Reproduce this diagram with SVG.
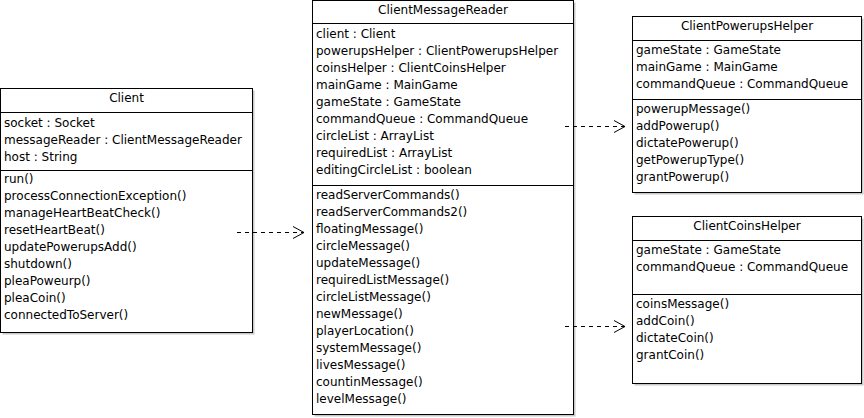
<svg xmlns="http://www.w3.org/2000/svg" width="864" height="418" viewBox="0 0 864 418">
<style>
  .box{fill:#fff;stroke:#000;stroke-width:1}
  .shadow{fill:#c8c8c8}
  .div{stroke:#000;stroke-width:1}
  text{font-family:"DejaVu Sans",Verdana,sans-serif;font-size:12px;fill:#000}
  .title{text-anchor:middle}
  .dep{fill:none;stroke:#000;stroke-width:1;stroke-dasharray:4 4}
  .head{fill:none;stroke:#000;stroke-width:1}
</style>
<rect width="864" height="418" fill="#fff"/>
<g id="Client">
  <rect class="shadow" x="2.5" y="90.5" width="252" height="244"/>
  <rect class="box" x="0.5" y="88.5" width="252" height="244"/>
  <line class="div" x1="0.5" y1="112.5" x2="252.5" y2="112.5"/>
  <line class="div" x1="0.5" y1="170.5" x2="252.5" y2="170.5"/>
  <text class="title" x="126.5" y="102">Client</text>
  <text x="4" y="127">socket : Socket</text>
  <text x="4" y="144">messageReader : ClientMessageReader</text>
  <text x="4" y="161">host : String</text>
  <text x="4" y="183">run()</text>
  <text x="4" y="200">processConnectionException()</text>
  <text x="4" y="217">manageHeartBeatCheck()</text>
  <text x="4" y="234">resetHeartBeat()</text>
  <text x="4" y="251">updatePowerupsAdd()</text>
  <text x="4" y="268">shutdown()</text>
  <text x="4" y="285">pleaPoweurp()</text>
  <text x="4" y="302">pleaCoin()</text>
  <text x="4" y="319">connectedToServer()</text>
</g>
<g id="ClientMessageReader">
  <rect class="shadow" x="314.5" y="2.5" width="261" height="414"/>
  <rect class="box" x="312.5" y="0.5" width="261" height="414"/>
  <line class="div" x1="312.5" y1="23.5" x2="573.5" y2="23.5"/>
  <line class="div" x1="312.5" y1="185.5" x2="573.5" y2="185.5"/>
  <text class="title" x="443" y="14">ClientMessageReader</text>
  <text x="316" y="38">client : Client</text>
  <text x="316" y="55">powerupsHelper : ClientPowerupsHelper</text>
  <text x="316" y="72">coinsHelper : ClientCoinsHelper</text>
  <text x="316" y="89">mainGame : MainGame</text>
  <text x="316" y="106">gameState : GameState</text>
  <text x="316" y="123">commandQueue : CommandQueue</text>
  <text x="316" y="140">circleList : ArrayList</text>
  <text x="316" y="157">requiredList : ArrayList</text>
  <text x="316" y="174">editingCircleList : boolean</text>
  <text x="316" y="199">readServerCommands()</text>
  <text x="316" y="216">readServerCommands2()</text>
  <text x="316" y="233">floatingMessage()</text>
  <text x="316" y="250">circleMessage()</text>
  <text x="316" y="267">updateMessage()</text>
  <text x="316" y="284">requiredListMessage()</text>
  <text x="316" y="301">circleListMessage()</text>
  <text x="316" y="318">newMessage()</text>
  <text x="316" y="335">playerLocation()</text>
  <text x="316" y="352">systemMessage()</text>
  <text x="316" y="369">livesMessage()</text>
  <text x="316" y="386">countinMessage()</text>
  <text x="316" y="403">levelMessage()</text>
</g>
<g id="ClientPowerupsHelper">
  <rect class="shadow" x="634.5" y="18.5" width="229" height="176"/>
  <rect class="box" x="632.5" y="16.5" width="229" height="176"/>
  <line class="div" x1="632.5" y1="40.5" x2="861.5" y2="40.5"/>
  <line class="div" x1="632.5" y1="99.5" x2="861.5" y2="99.5"/>
  <text class="title" x="747" y="30">ClientPowerupsHelper</text>
  <text x="636" y="54">gameState : GameState</text>
  <text x="636" y="71">mainGame : MainGame</text>
  <text x="636" y="88">commandQueue : CommandQueue</text>
  <text x="636" y="113">powerupMessage()</text>
  <text x="636" y="130">addPowerup()</text>
  <text x="636" y="147">dictatePowerup()</text>
  <text x="636" y="164">getPowerupType()</text>
  <text x="636" y="181">grantPowerup()</text>
</g>
<g id="ClientCoinsHelper">
  <rect class="shadow" x="634.5" y="218.5" width="229" height="167"/>
  <rect class="box" x="632.5" y="216.5" width="229" height="167"/>
  <line class="div" x1="632.5" y1="240.5" x2="861.5" y2="240.5"/>
  <line class="div" x1="632.5" y1="294.5" x2="861.5" y2="294.5"/>
  <text class="title" x="747" y="230">ClientCoinsHelper</text>
  <text x="636" y="254">gameState : GameState</text>
  <text x="636" y="271">commandQueue : CommandQueue</text>
  <text x="636" y="308">coinsMessage()</text>
  <text x="636" y="325">addCoin()</text>
  <text x="636" y="342">dictateCoin()</text>
  <text x="636" y="359">grantCoin()</text>
</g>
<g id="connectors">
  <line class="dep" x1="237" y1="232.5" x2="304" y2="232.5"/>
  <polyline class="head" points="293,226.5 304,232.5 293,238.5"/>
  <line class="dep" x1="565" y1="126.5" x2="625" y2="126.5"/>
  <polyline class="head" points="614,120.5 625,126.5 614,132.5"/>
  <line class="dep" x1="565" y1="326.5" x2="625" y2="326.5"/>
  <polyline class="head" points="614,320.5 625,326.5 614,332.5"/>
</g>
</svg>
